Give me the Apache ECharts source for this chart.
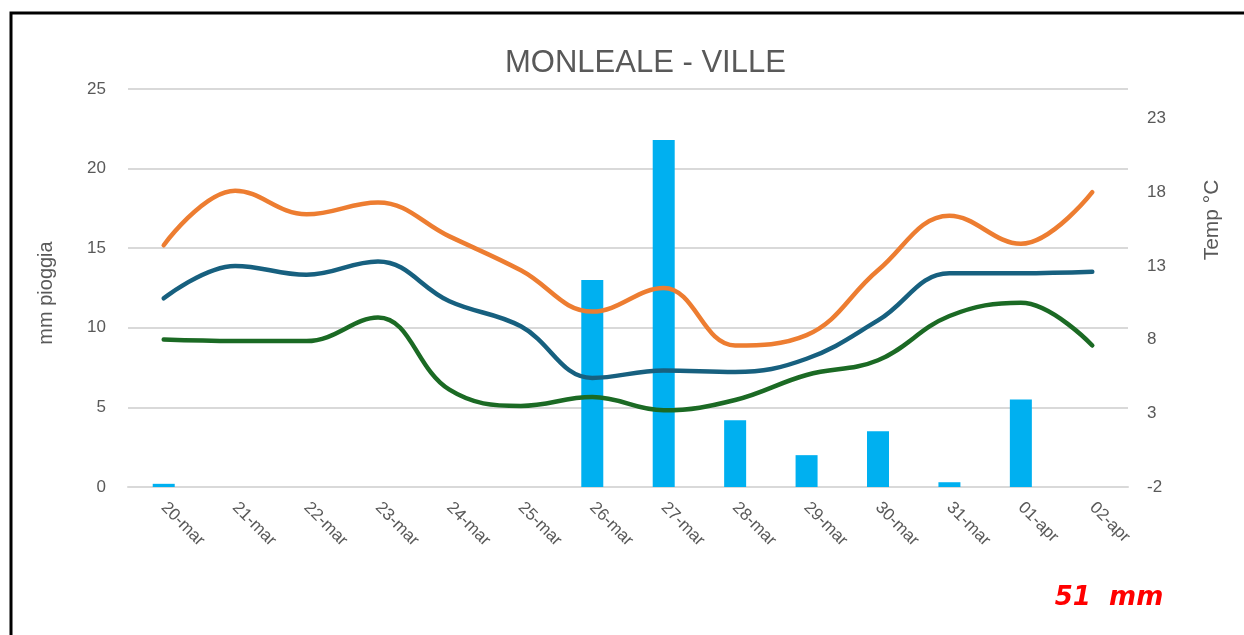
<!DOCTYPE html>
<html>
<head>
<meta charset="utf-8">
<script src="https://cdn.jsdelivr.net/npm/echarts@6/dist/echarts.min.js"></script>
<style>html,body{margin:0;padding:0;background:#fff;}#c{width:1244px;height:635px;}</style>
</head>
<body>
<div id="c"></div>
<script>
const categories = ['20-mar','21-mar','22-mar','23-mar','24-mar','25-mar','26-mar','27-mar','28-mar','29-mar','30-mar','31-mar','01-apr','02-apr'];
const rain = [0.2, 0, 0, 0, 0, 0, 13.0, 21.8, 4.2, 2.0, 3.5, 0.3, 5.5, 0];
const tMax = [14.4, 18.1, 16.5, 17.3, 15.0, 12.7, 9.9, 11.5, 7.6, 8.3, 12.7, 16.4, 14.5, 18.0];
const tAvg = [10.8, 13.0, 12.4, 13.3, 10.6, 8.9, 5.4, 5.9, 5.8, 6.7, 9.3, 12.5, 12.5, 12.6];
const tMin = [8.0, 7.9, 7.9, 9.5, 4.6, 3.5, 4.1, 3.2, 3.9, 5.6, 6.6, 9.6, 10.5, 7.6];
const rainTicks = [0, 5, 10, 15, 20, 25];
const tempTicks = [-2, 3, 8, 13, 18, 23];
const totalLabel = '51  mm';

const chart = echarts.init(document.getElementById('c'));
const grey = '#595959';
const font = 'Liberation Sans';
chart.setOption({
  animation: false,
  backgroundColor: '#fff',
  title: {
    text: 'MONLEALE - VILLE',
    left: 500, top: 43,
    textStyle: { fontFamily: font, fontSize: 31, fontWeight: 'normal', color: grey }
  },
  grid: { left: 128, right: 116, top: 89, bottom: 148, containLabel: false },
  xAxis: {
    type: 'category',
    data: categories,
    boundaryGap: true,
    axisLine: { lineStyle: { color: '#d9d9d9', width: 2 } },
    axisTick: { show: false },
    axisLabel: { rotate: -45, fontFamily: font, fontSize: 17, color: grey, margin: 18, interval: 0 }
  },
  yAxis: [
    {
      type: 'value', min: 0, max: 25, interval: 5,
      axisLine: { show: false }, axisTick: { show: false },
      axisLabel: { customValues: rainTicks, fontFamily: font, fontSize: 17, color: grey, margin: 22 },
      splitLine: { lineStyle: { color: '#d9d9d9', width: 2 } }
    },
    {
      type: 'value', min: -2, max: 25,
      axisLine: { show: false }, axisTick: { show: false },
      axisLabel: { customValues: tempTicks, fontFamily: font, fontSize: 17, color: grey, margin: 19 },
      splitLine: { show: false }
    }
  ],
  graphic: [
    { type: 'rect', shape: { x: 11, y: 13, width: 1300, height: 700 }, style: { fill: 'none', stroke: '#000', lineWidth: 3 }, z: 100 },
    { type: 'text', x: 46, y: 293, rotation: Math.PI / 2, style: { text: 'mm pioggia', fontFamily: font, fontSize: 20, fill: grey, align: 'center', verticalAlign: 'middle' } },
    { type: 'text', x: 1212, y: 220, rotation: Math.PI / 2, style: { text: 'Temp °C', fontFamily: font, fontSize: 21, fill: grey, align: 'center', verticalAlign: 'middle' } },
    { type: 'text', x: 1109, y: 598, style: { text: totalLabel, fontFamily: 'DejaVu Sans', fontSize: 26, fontWeight: 'bold', fontStyle: 'italic', fill: '#ff0000', align: 'center', verticalAlign: 'middle' } }
  ],
  series: [
    { type: 'bar', name: 'pioggia', data: rain, yAxisIndex: 0, barWidth: 22, itemStyle: { color: '#00B0F0' }, z: 1 },
    { type: 'line', name: 'max', data: tMax, yAxisIndex: 1, smooth: 0.4, symbol: 'none', lineStyle: { color: '#ED7D31', width: 4.5, cap: 'round' }, z: 3 },
    { type: 'line', name: 'media', data: tAvg, yAxisIndex: 1, smooth: 0.4, symbol: 'none', lineStyle: { color: '#17607F', width: 4.5, cap: 'round' }, z: 3 },
    { type: 'line', name: 'min', data: tMin, yAxisIndex: 1, smooth: 0.4, symbol: 'none', lineStyle: { color: '#1B6A24', width: 4.5, cap: 'round' }, z: 3 }
  ]
});
</script>
</body>
</html>
